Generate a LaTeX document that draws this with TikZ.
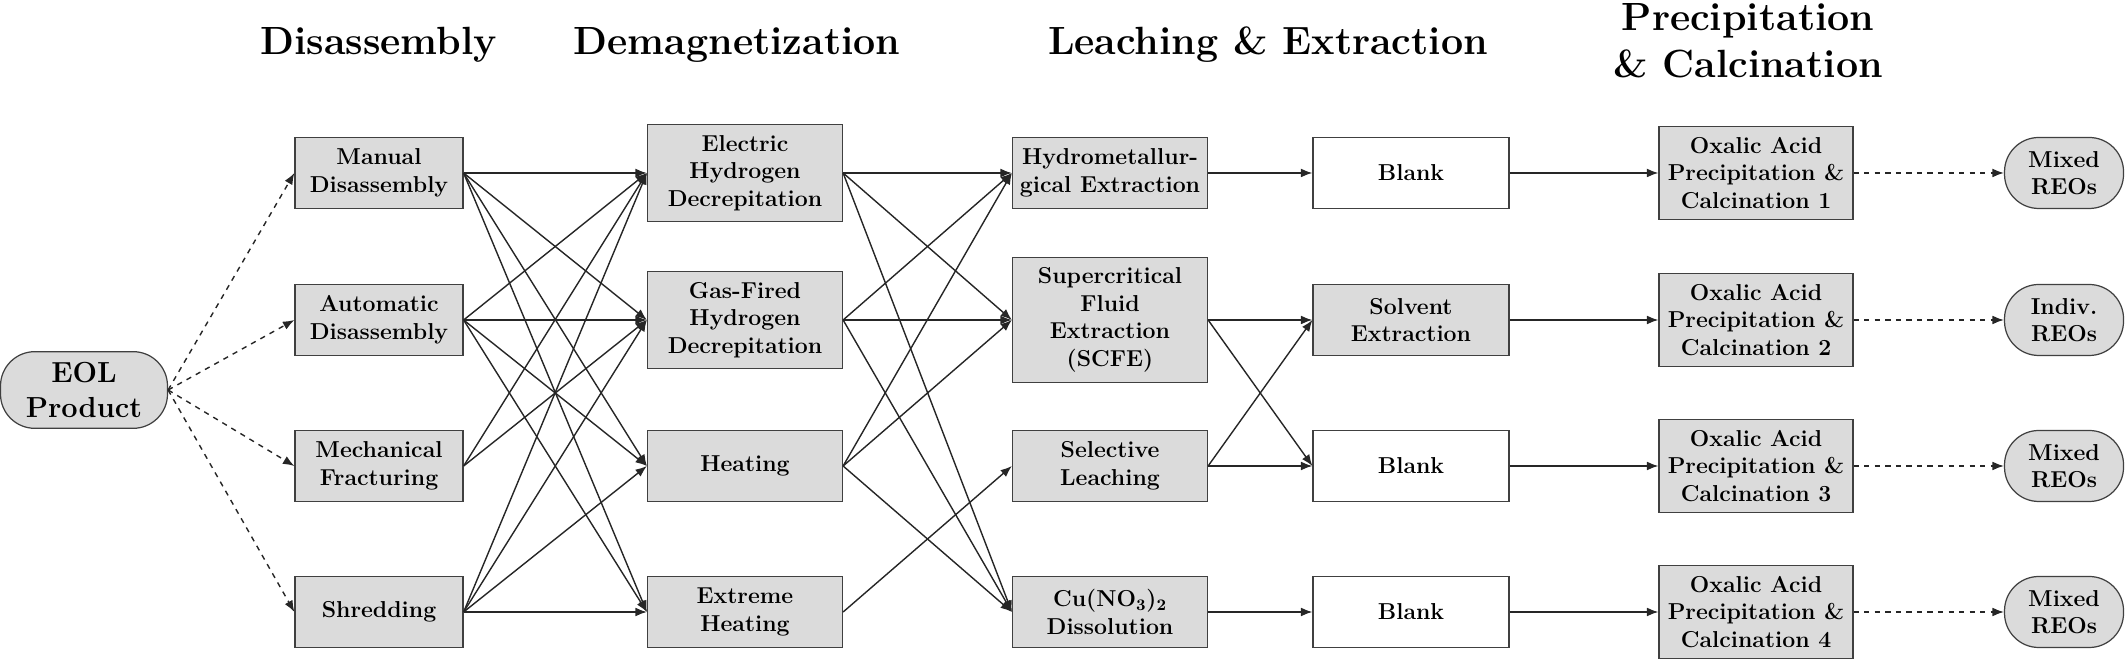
\documentclass[tikz,border=0pt]{standalone}
\usepackage{fontspec}
\usepackage{tikz}
\usetikzlibrary{arrows.meta}

\tikzset{
  stagebox/.style={draw=black!75, fill=black!14, line width=0.7pt, align=center,
    minimum height=1.42cm, inner xsep=3pt, inner ysep=6pt,
    font=\fontsize{13.1}{15.7}\selectfont\bfseries},
  blankbox/.style={stagebox, fill=white},
  endbox/.style={stagebox, rounded corners=19.5pt},
  heading/.style={align=center, font=\fontsize{22.4}{27}\selectfont\bfseries},
  flow/.style={line width=0.8pt, draw=black!85, -{Latex[length=6.5pt,width=5pt]}},
  optflow/.style={flow, dashed},
}

\begin{document}
\begin{tikzpicture}
          \useasboundingbox (0,0) rectangle (42.56,13.2);
          % stage titles
          \node[heading, anchor=base] (hdis) at (7.57,12.1) {Disassembly};
          \node[heading, anchor=base] (hdem) at (14.74,12.1) {Demagnetization};
          \node[heading, anchor=base] (hlea) at (25.36,12.1) {Leaching \& Extraction};
          \node[heading] (hpre) at (34.96,12.38) {Precipitation\\\& Calcination};
          % start
          \node[endbox, minimum width=3.34cm, font=\fontsize{16.5}{20}\selectfont\bfseries] (eol) at (1.68,5.4) {EOL\\Product};
          % disassembly
          \node[stagebox, minimum width=3.36cm] (man) at (7.58,9.74) {Manual\\Disassembly};
          \node[stagebox, minimum width=3.36cm] (auto) at (7.58,6.8) {Automatic\\Disassembly};
          \node[stagebox, minimum width=3.36cm] (mech) at (7.58,3.88) {Mechanical\\Fracturing};
          \node[stagebox, minimum width=3.36cm] (shred) at (7.58,0.96) {Shredding};
          % demagnetization
          \node[stagebox, minimum width=3.9cm] (ehd) at (14.9,9.74) {Electric\\Hydrogen\\Decrepitation};
          \node[stagebox, minimum width=3.9cm] (ghd) at (14.9,6.8) {Gas-Fired\\Hydrogen\\Decrepitation};
          \node[stagebox, minimum width=3.9cm] (heat) at (14.9,3.88) {Heating};
          \node[stagebox, minimum width=3.9cm] (xheat) at (14.9,0.96) {Extreme\\Heating};
          % leaching
          \node[stagebox, minimum width=3.9cm] (hyd) at (22.2,9.74) {Hydrometallur-\\gical Extraction};
          \node[stagebox, minimum width=3.9cm] (scfe) at (22.2,6.8) {Supercritical\\Fluid\\Extraction\\(SCFE)};
          \node[stagebox, minimum width=3.9cm] (sel) at (22.2,3.88) {Selective\\Leaching};
          \node[stagebox, minimum width=3.9cm] (cu) at (22.2,0.96) {Cu(NO\textsubscript{3})\textsubscript{2}\\Dissolution};
          % extraction
          \node[blankbox, minimum width=3.92cm] (blankA) at (28.22,9.74) {Blank};
          \node[stagebox, minimum width=3.92cm] (solv) at (28.22,6.8) {Solvent\\Extraction};
          \node[blankbox, minimum width=3.92cm] (blankB) at (28.22,3.88) {Blank};
          \node[blankbox, minimum width=3.92cm] (blankC) at (28.22,0.96) {Blank};
          % precipitation
          \node[stagebox, minimum width=3.88cm] (oxa1) at (35.12,9.74) {Oxalic Acid\\Precipitation \&\\Calcination 1};
          \node[stagebox, minimum width=3.88cm] (oxa2) at (35.12,6.8) {Oxalic Acid\\Precipitation \&\\Calcination 2};
          \node[stagebox, minimum width=3.88cm] (oxa3) at (35.12,3.88) {Oxalic Acid\\Precipitation \&\\Calcination 3};
          \node[stagebox, minimum width=3.88cm] (oxa4) at (35.12,0.96) {Oxalic Acid\\Precipitation \&\\Calcination 4};
          % products
          \node[endbox, minimum width=2.38cm] (reo1) at (41.28,9.74) {Mixed\\REOs};
          \node[endbox, minimum width=2.38cm] (reo2) at (41.28,6.8) {Indiv.\\REOs};
          \node[endbox, minimum width=2.38cm] (reo3) at (41.28,3.88) {Mixed\\REOs};
          \node[endbox, minimum width=2.38cm] (reo4) at (41.28,0.96) {Mixed\\REOs};
          % connections
          \foreach \b in {man,auto,mech,shred}
            \draw[optflow] (eol.east) -- (\b.west);
          \foreach \a in {man,auto,shred}
            \foreach \b in {ehd,ghd,heat,xheat}
              \draw[flow] (\a.east) -- (\b.west);
          \draw[flow] (mech.east) -- (ehd.west);
          \draw[flow] (mech.east) -- (ghd.west);
          \foreach \a in {ehd,ghd,heat}
            \foreach \b in {hyd,scfe,cu}
              \draw[flow] (\a.east) -- (\b.west);
          \draw[flow] (xheat.east) -- (sel.west);
          \draw[flow] (hyd.east) -- (blankA.west);
          \draw[flow] (scfe.east) -- (solv.west);
          \draw[flow] (scfe.east) -- (blankB.west);
          \draw[flow] (sel.east) -- (solv.west);
          \draw[flow] (sel.east) -- (blankB.west);
          \draw[flow] (cu.east) -- (blankC.west);
          \draw[flow] (blankA.east) -- (oxa1.west);
          \draw[flow] (solv.east) -- (oxa2.west);
          \draw[flow] (blankB.east) -- (oxa3.west);
          \draw[flow] (blankC.east) -- (oxa4.west);
          \foreach \i in {1,2,3,4}
            \draw[optflow] (oxa\i.east) -- (reo\i.west);
        \end{tikzpicture}
\end{document}
